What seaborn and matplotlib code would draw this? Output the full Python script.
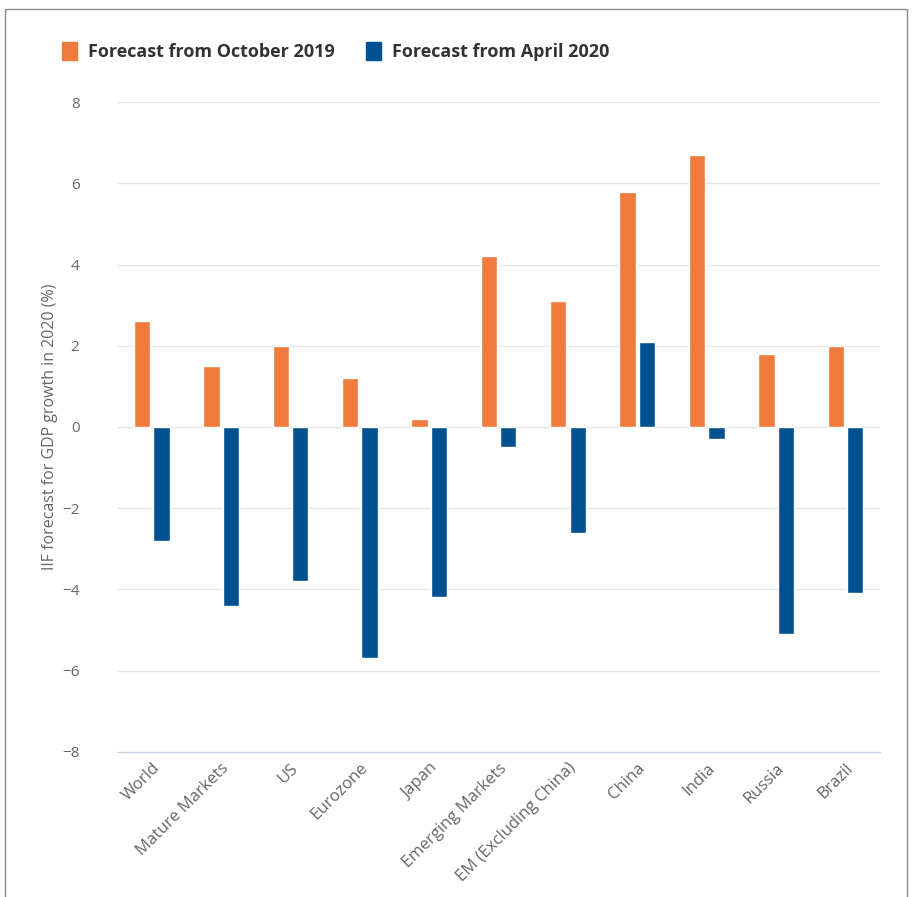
import pandas as pd
import matplotlib.pyplot as plt
import matplotlib.patches as mpatches
import seaborn as sns

REGIONS = ["World", "Mature Markets", "US", "Eurozone", "Japan", "Emerging Markets",
           "EM (Excluding China)", "China", "India", "Russia", "Brazil"]
OCT_2019 = [2.6, 1.5, 2.0, 1.2, 0.2, 4.2, 3.1, 5.8, 6.7, 1.8, 2.0]
APR_2020 = [-2.8, -4.4, -3.8, -5.7, -4.2, -0.5, -2.6, 2.1, -0.3, -5.1, -4.1]
SERIES = ["Forecast from October 2019", "Forecast from April 2020"]
COLORS = ["#EE7B3C", "#01508F"]

df = pd.concat([
    pd.DataFrame({"region": REGIONS, "growth": OCT_2019, "series": SERIES[0]}),
    pd.DataFrame({"region": REGIONS, "growth": APR_2020, "series": SERIES[1]}),
])

sns.set_style("white")
plt.rcParams["font.family"] = ["Open Sans", "DejaVu Sans"]

fig = plt.figure(figsize=(9.14, 8.97), dpi=100)
ax = fig.add_axes([0.128, 0.162, 0.835, 0.724])

sns.barplot(data=df, x="region", y="growth", hue="series", palette=COLORS,
            width=0.56, gap=0.16, legend=False, ax=ax, saturation=1)

ax.set_ylim(-8, 8)
ax.set_yticks(range(-8, 9, 2))
ax.set_yticklabels([str(v).replace("-", "\u2212") for v in range(-8, 9, 2)])
ax.set_xlim(-0.5, len(REGIONS) - 0.5)
ax.grid(axis="y", color="#e6e6e6", linewidth=1)
ax.set_axisbelow(True)
for side in ["top", "right", "left"]:
    ax.spines[side].set_visible(False)
ax.spines["bottom"].set_position(("data", -8))
ax.spines["bottom"].set_color("#ccd6eb")
ax.tick_params(axis="y", length=0, pad=27, labelsize=11, labelcolor="#666666")
ax.tick_params(axis="x", length=0, pad=6, labelsize=12, labelcolor="#666666")
plt.setp(ax.get_xticklabels(), rotation=45, ha="right", rotation_mode="anchor")
ax.set_xlabel("")
ax.set_ylabel("IIF forecast for GDP growth in 2020 (%)", fontsize=11.5, color="#666666")
ax.yaxis.set_label_coords(-0.077, 0.5)

handles = [mpatches.Patch(color=c, label=s) for c, s in zip(COLORS, SERIES)]
leg = fig.legend(handles=handles, loc="upper left", bbox_to_anchor=(0.05, 0.971), ncol=2,
                 frameon=False, handlelength=0.85, handleheight=1.1, handletextpad=0.6,
                 columnspacing=1.7, prop={"size": 13, "weight": "bold"})
for t in leg.get_texts():
    t.set_color("#333333")

# thin frame around the chart card
fig.patches.append(mpatches.Rectangle((0.006, -0.01), 0.986, 1.0, transform=fig.transFigure,
                                      fill=False, edgecolor="#888888", linewidth=1))

fig.savefig("out.png", dpi=100)
